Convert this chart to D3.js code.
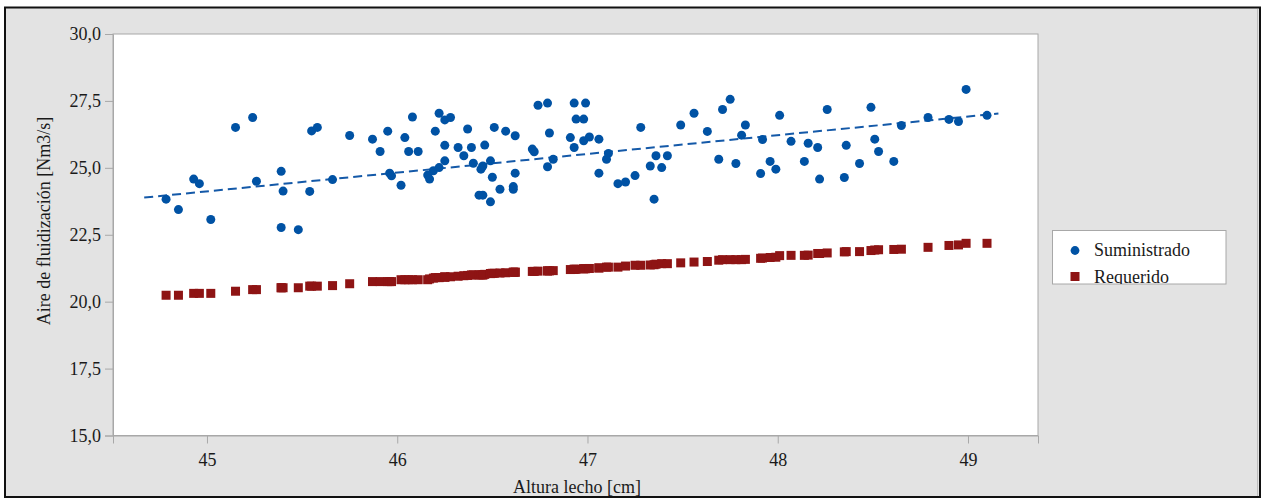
<!DOCTYPE html>
<html><head><meta charset="utf-8">
<script src="https://cdn.jsdelivr.net/npm/d3@7"></script>
<style>
html,body{margin:0;padding:0;background:#fff;}
svg{display:block;font-family:"Liberation Serif","DejaVu Serif",serif;}
</style></head>
<body><svg id="c" width="1267" height="499"></svg>
<script>
// Data
const alturaX = [44.785,44.85,44.93,44.96,45.02,45.15,45.24,45.26,45.39,45.39,45.40,45.48,45.54,45.55,45.58,45.66,45.75,45.87,45.91,45.95,45.96,45.97,46.02,46.04,46.06,46.08,46.11,46.16,46.17,46.19,46.20,46.22,46.22,46.25,46.25,46.25,46.28,46.32,46.35,46.37,46.39,46.40,46.43,46.44,46.45,46.45,46.46,46.49,46.49,46.50,46.51,46.54,46.57,46.62,46.62,46.61,46.61,46.71,46.72,46.74,46.79,46.80,46.79,46.82,46.91,46.93,46.94,46.93,46.98,46.99,46.98,47.01,47.06,47.06,47.11,47.10,47.16,47.20,47.25,47.28,47.33,47.35,47.36,47.39,47.42,47.49,47.56,47.63,47.69,47.71,47.75,47.78,47.81,47.83,47.91,47.92,47.96,47.99,48.01,48.07,48.14,48.16,48.21,48.22,48.26,48.35,48.36,48.43,48.49,48.51,48.53,48.61,48.65,48.79,48.90,48.95,48.99,49.10];
const suministrado = [23.83,23.44,24.58,24.41,23.07,26.51,26.88,24.50,24.87,22.77,24.13,22.69,24.12,26.38,26.51,24.56,26.21,26.07,25.61,26.37,24.80,24.70,24.35,26.13,25.61,26.90,25.61,24.73,24.58,24.89,26.37,25.01,27.04,25.26,26.79,25.84,26.88,25.76,25.45,26.45,25.76,25.17,23.98,24.95,23.98,25.07,25.85,25.26,23.73,24.65,26.51,24.20,26.37,26.20,24.80,24.30,24.20,25.70,25.60,27.34,27.42,26.30,25.04,25.32,26.13,27.42,26.82,25.76,26.82,27.42,26.01,26.15,26.07,24.80,25.54,25.32,24.41,24.47,24.71,26.51,25.07,23.83,25.45,25.01,25.45,26.60,27.04,26.36,25.32,27.18,27.56,25.16,26.22,26.60,24.79,26.06,25.24,24.95,26.96,25.99,25.24,25.92,25.76,24.58,27.18,24.64,25.84,25.16,27.26,26.07,25.61,25.24,26.58,26.88,26.81,26.73,27.93,26.96];
const requerido = [20.24,20.24,20.31,20.31,20.31,20.39,20.45,20.45,20.52,20.52,20.52,20.52,20.58,20.58,20.58,20.60,20.67,20.75,20.75,20.75,20.75,20.75,20.82,20.82,20.82,20.82,20.82,20.82,20.85,20.88,20.90,20.90,20.90,20.92,20.92,20.92,20.93,20.95,20.97,20.98,21.00,21.00,21.00,21.00,21.00,21.00,21.02,21.05,21.05,21.06,21.06,21.07,21.08,21.10,21.10,21.10,21.10,21.13,21.13,21.14,21.15,21.15,21.15,21.16,21.20,21.21,21.21,21.21,21.23,21.23,21.23,21.24,21.26,21.26,21.29,21.29,21.29,21.33,21.36,21.36,21.37,21.38,21.40,21.42,21.42,21.45,21.48,21.50,21.55,21.57,21.57,21.57,21.57,21.58,21.62,21.63,21.65,21.66,21.72,21.73,21.73,21.74,21.80,21.80,21.82,21.86,21.87,21.87,21.91,21.93,21.94,21.95,21.96,22.03,22.10,22.12,22.18,22.18];
// dashed trend line endpoints
const trendX = [44.67, 49.16];
const trendY = [23.89, 27.03];
const xTicks = [45,46,47,48,49];
const yTicks = [15,17.5,20,22.5,25,27.5,30];
const seriesNames = ["Suministrado","Requerido"];
const seriesColors = ["#0052a4","#8e1414"];

const svg = d3.select("#c");
svg.append("rect").attr("x",0).attr("y",0).attr("width",1267).attr("height",499).attr("fill","#ffffff");
svg.append("rect").attr("x",5).attr("y",7.5).attr("width",1255).attr("height",489.5)
  .attr("fill","#e3e3e3").attr("stroke","#111").attr("stroke-width",2);
svg.append("line").attr("x1",1257.5).attr("x2",1257.5).attr("y1",9).attr("y2",496).attr("stroke","#bdbdbd").attr("stroke-width",1);

const L=113, R=1038, T=34, B=435.5;
const x = d3.scaleLinear().domain([44.506,49.368]).range([L,R]);
const y = d3.scaleLinear().domain([15,30]).range([B,T]);

svg.append("rect").attr("x",L).attr("y",T).attr("width",R-L).attr("height",B-T)
  .attr("fill","#fff").attr("stroke","#a8a8a8").attr("stroke-width",1);

const fmt = d => d3.format(".1f")(d).replace(".",",");
const yAxis = svg.append("g").attr("transform",`translate(${L},0)`)
  .call(d3.axisLeft(y).tickValues(yTicks).tickFormat(fmt).tickSize(8).tickPadding(4));
const xAxis = svg.append("g").attr("transform",`translate(0,${B})`)
  .call(d3.axisBottom(x).tickValues(xTicks).tickFormat(d3.format("d")).tickSize(8).tickPadding(10));
[yAxis,xAxis].forEach(a=>{
  a.select(".domain").attr("stroke","#a8a8a8");
  a.selectAll(".tick line").attr("stroke","#a8a8a8");
  a.selectAll(".tick text").attr("fill","#1a1a1a").attr("font-size",18)
    .attr("font-family","Liberation Serif, serif");
});

svg.append("text").attr("transform","translate(50,221) rotate(-90)")
  .attr("text-anchor","middle").attr("font-size",18).attr("fill","#1a1a1a")
  .text("Aire de fluidización [Nm3/s]");
svg.append("text").attr("x",577).attr("y",493)
  .attr("text-anchor","middle").attr("font-size",18).attr("fill","#1a1a1a")
  .text("Altura lecho [cm]");

const plot = svg.append("g");
plot.selectAll("rect.req").data(alturaX).join("rect").attr("class","req")
  .attr("x",(d)=>x(d)-4.5).attr("y",(d,i)=>y(requerido[i])-4.5)
  .attr("width",9).attr("height",9).attr("fill",seriesColors[1]);

plot.append("path")
  .datum(trendX.map((v,i)=>[v,trendY[i]]))
  .attr("d", d3.line().x(d=>x(d[0])).y(d=>y(d[1])))
  .attr("fill","none").attr("stroke","#1459a8").attr("stroke-width",2).attr("stroke-dasharray","9,5");

plot.selectAll("circle.sum").data(alturaX).join("circle").attr("class","sum")
  .attr("cx",d=>x(d)).attr("cy",(d,i)=>y(suministrado[i])).attr("r",4.5)
  .attr("fill",seriesColors[0]);

const lg = svg.append("g");
lg.append("clipPath").attr("id","lgclip").append("rect")
  .attr("x",1052.5).attr("y",230.5).attr("width",173.5).attr("height",53.5);
lg.append("rect").attr("x",1052.5).attr("y",230.5).attr("width",173.5).attr("height",53.5)
  .attr("fill","#fff").attr("stroke","#a8a8a8").attr("stroke-width",1);
const li = lg.append("g").attr("clip-path","url(#lgclip)");
li.append("circle").attr("cx",1075).attr("cy",250.5).attr("r",4.4).attr("fill",seriesColors[0]);
li.append("rect").attr("x",1070.5).attr("y",272).attr("width",9).attr("height",9).attr("fill",seriesColors[1]);
li.selectAll("text").data(seriesNames).join("text")
  .attr("x",1094).attr("y",(d,i)=>256+i*27).attr("font-size",18).attr("fill","#1a1a1a").text(d=>d);
</script></body></html>
